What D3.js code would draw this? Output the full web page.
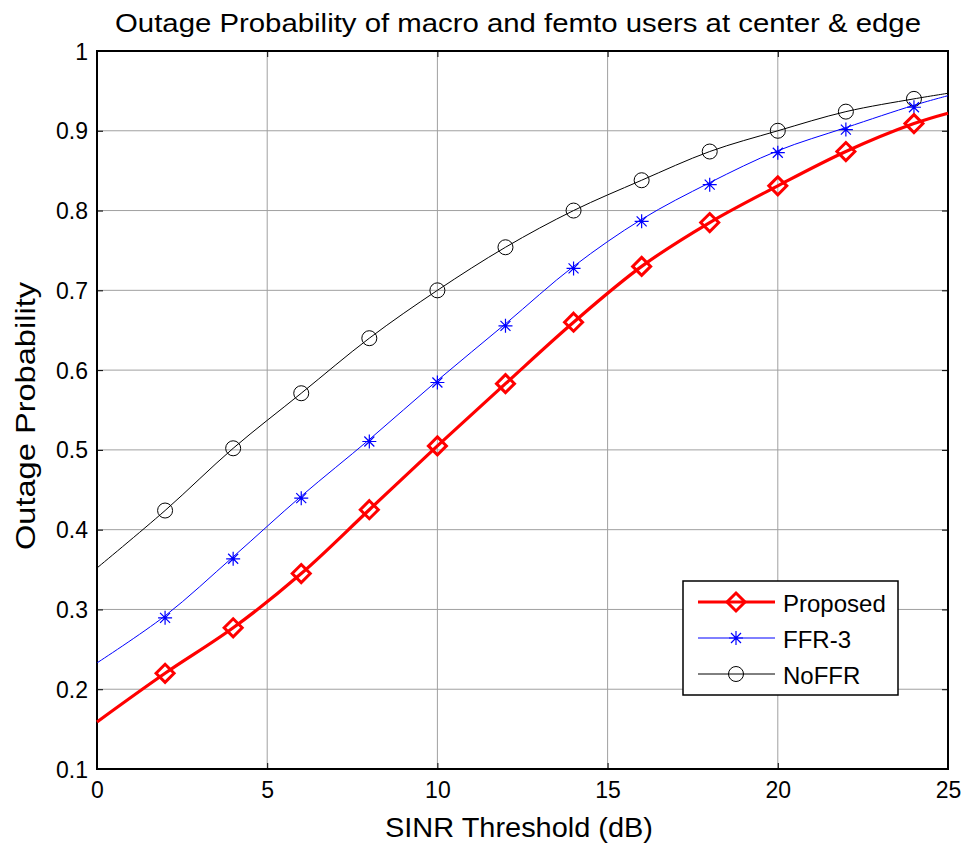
<!DOCTYPE html>
<html><head><meta charset="utf-8">
<script src="https://cdn.jsdelivr.net/npm/d3@7"></script>
<style>body{margin:0;background:#fff;font-family:"Liberation Sans",Arial,sans-serif;}</style>
</head><body><svg id="c" width="968" height="845"></svg>
<script>
const xVals = [0,2,4,6,8,10,12,14,16,18,20,22,24,25];
const proposed = [0.159,0.220,0.277,0.345,0.425,0.505,0.583,0.660,0.730,0.785,0.831,0.874,0.909,0.922];
const ffr3 =     [0.233,0.292,0.366,0.442,0.513,0.587,0.658,0.730,0.789,0.835,0.875,0.904,0.932,0.944];
const noffr =    [0.352,0.424,0.502,0.571,0.640,0.700,0.754,0.800,0.838,0.874,0.900,0.924,0.940,0.947];
const markerX = [2,4,6,8,10,12,14,16,18,20,22,24];
const xTicks = [0,5,10,15,20,25];
const yTicks = [0.1,0.2,0.3,0.4,0.5,0.6,0.7,0.8,0.9,1];
const seriesNames = ["Proposed","FFR-3","NoFFR"];

const svg = d3.select("#c").attr("font-family","Liberation Sans, Arial, sans-serif");
const L=97,R=948,T=51,B=769;
const x = d3.scaleLinear().domain([0,25]).range([L,R]);
const y = d3.scaleLinear().domain([0.1,1]).range([B,T]);

// grid
svg.append("g").selectAll("line").data(xTicks.slice(1,-1)).join("line")
 .attr("x1",d=>x(d)).attr("x2",d=>x(d)).attr("y1",T).attr("y2",B)
 .attr("stroke","#a0a0a0").attr("stroke-width",1);
svg.append("g").selectAll("line").data(yTicks.slice(1,-1)).join("line")
 .attr("y1",d=>y(d)).attr("y2",d=>y(d)).attr("x1",L).attr("x2",R)
 .attr("stroke","#a0a0a0").attr("stroke-width",1);

// axes
const ax = (g)=>g.attr("font-family","Liberation Sans, Arial, sans-serif").attr("font-size",23);
svg.append("g").attr("transform",`translate(0,${B})`)
 .call(d3.axisBottom(x).tickValues(xTicks).tickSize(-6).tickPadding(12).tickFormat(d3.format("d"))).call(ax)
 .selectAll(".tick text").attr("dy",null).attr("y",29);
svg.append("g").attr("transform",`translate(0,${T})`)
 .call(d3.axisTop(x).tickValues(xTicks).tickSize(-6).tickFormat("")).call(ax);
svg.append("g").attr("transform",`translate(${L},0)`)
 .call(d3.axisLeft(y).tickValues(yTicks).tickSize(-6).tickPadding(9).tickFormat(d=>d===1?"1":d3.format(".1f")(d))).call(ax)
 .selectAll(".tick text").attr("dy",null).attr("y",8).attr("x",-9);
svg.append("g").attr("transform",`translate(${R},0)`)
 .call(d3.axisRight(y).tickValues(yTicks).tickSize(-6).tickFormat("")).call(ax);
svg.selectAll(".domain").remove();
svg.selectAll(".tick line").attr("stroke","#000");
svg.selectAll(".tick text").attr("fill","#000");
svg.append("rect").attr("x",L).attr("y",T).attr("width",R-L).attr("height",B-T)
 .attr("fill","none").attr("stroke","#000").attr("stroke-width",2);

const line = d3.line().x((d,i)=>x(xVals[i])).y(d=>y(d)).curve(d3.curveCatmullRom.alpha(0.5));
const g = svg.append("g");
g.append("path").datum(noffr).attr("d",line).attr("fill","none").attr("stroke","#000").attr("stroke-width",1);
g.append("path").datum(ffr3).attr("d",line).attr("fill","none").attr("stroke","#0000ff").attr("stroke-width",1);
g.append("path").datum(proposed).attr("d",line).attr("fill","none").attr("stroke","#ff0000").attr("stroke-width",3.2);

function circle(sel,cx,cy){sel.append("circle").attr("cx",cx).attr("cy",cy).attr("r",7.5).attr("fill","none").attr("stroke","#000").attr("stroke-width",1);}
function star(sel,cx,cy){
  const s=7, d=5;
  const p=`M${cx-s},${cy}L${cx+s},${cy}M${cx},${cy-s}L${cx},${cy+s}M${cx-d},${cy-d}L${cx+d},${cy+d}M${cx-d},${cy+d}L${cx+d},${cy-d}`;
  sel.append("path").attr("d",p).attr("stroke","#0000ff").attr("stroke-width",1.2).attr("fill","none");
}
function diamond(sel,cx,cy){
  const s=9;
  sel.append("path").attr("d",`M${cx},${cy-s}L${cx+s},${cy}L${cx},${cy+s}L${cx-s},${cy}Z`)
   .attr("fill","none").attr("stroke","#ff0000").attr("stroke-width",3);
}
markerX.forEach(mx=>{
  const i = xVals.indexOf(mx);
  circle(g,x(mx),y(noffr[i]));
  star(g,x(mx),y(ffr3[i])+2);
  diamond(g,x(mx),y(proposed[i]));
});

// legend
const lg = svg.append("g");
lg.append("rect").attr("x",683).attr("y",581).attr("width",215).attr("height",114)
 .attr("fill","#fff").attr("stroke","#000").attr("stroke-width",1.5);
const ly=[602,638,674];
const styles=[{c:"#ff0000",w:3.2,m:diamond},{c:"#0000ff",w:1,m:star},{c:"#000",w:1,m:circle}];
seriesNames.forEach((n,i)=>{
  lg.append("line").attr("x1",698).attr("x2",775).attr("y1",ly[i]).attr("y2",ly[i]).attr("stroke",styles[i].c).attr("stroke-width",styles[i].w);
  styles[i].m(lg,736,ly[i]);
  lg.append("text").attr("x",783).attr("y",ly[i]+10).attr("font-size",24).attr("fill","#000").text(n);
});

svg.append("text").attr("x",518).attr("y",32).attr("text-anchor","middle").attr("font-size",26)
 .attr("textLength",806).attr("lengthAdjust","spacingAndGlyphs").text("Outage Probability of macro and femto users at center & edge");
svg.append("text").attr("x",519).attr("y",837).attr("text-anchor","middle").attr("font-size",28)
 .attr("textLength",268).attr("lengthAdjust","spacingAndGlyphs").text("SINR Threshold (dB)");
svg.append("text").attr("transform","translate(35,416) rotate(-90)").attr("text-anchor","middle").attr("font-size",28)
 .attr("textLength",268).attr("lengthAdjust","spacingAndGlyphs").text("Outage Probability");
</script></body></html>
